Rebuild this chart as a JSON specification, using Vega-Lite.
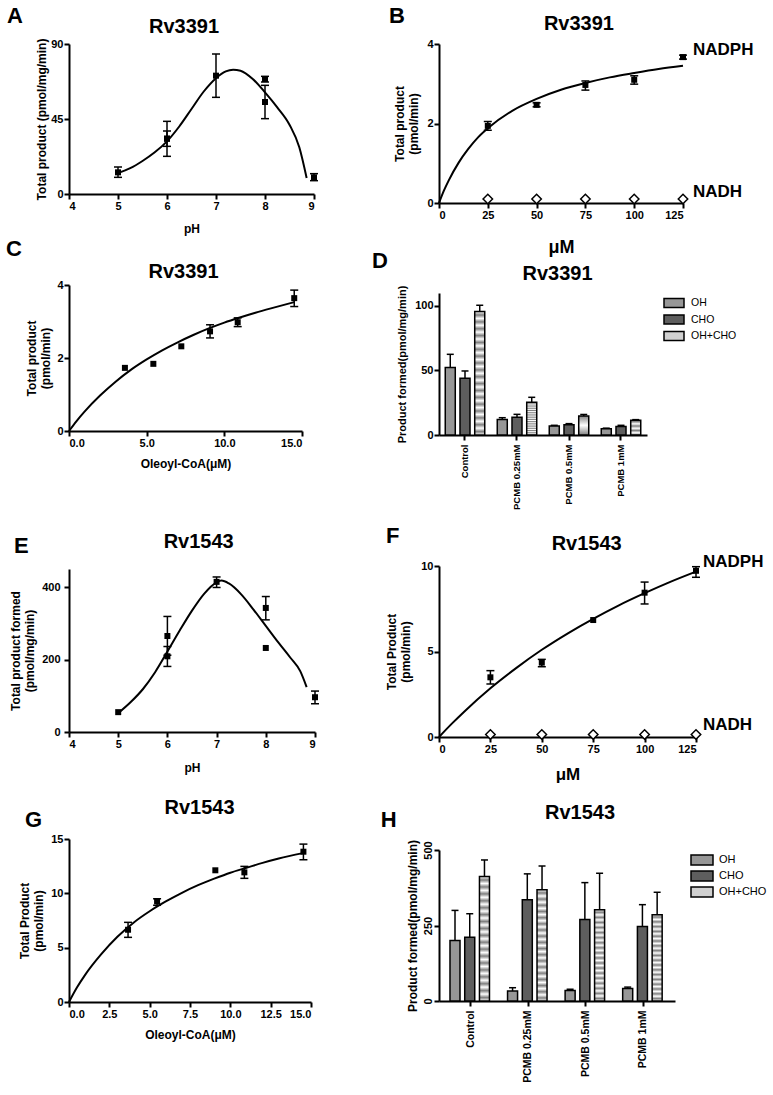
{
  "$schema": "https://vega.github.io/schema/vega-lite/v6.json",
  "background": "white",
  "padding": 5,
  "spacing": 52,
  "resolve": {"scale": {"fill": "independent"}, "legend": {"fill": "independent"}},
  "hconcat": [
    {
      "spacing": 62,
      "vconcat": [
        {
          "spacing": 3,
          "vconcat": [
            {
              "width": 245, "height": 150,
              "layer": [
                {"data": {"name": "A_curve"}, "mark": {"type": "line", "interpolate": "monotone", "color": "black", "strokeWidth": 2},
                 "encoding": {
                   "x": {"field": "pH", "type": "quantitative", "scale": {"domain": [4, 9], "nice": false, "zero": false}, "axis": {"values": [4, 5, 6, 7, 8, 9], "title": "pH", "titlePadding": 12}},
                   "y": {"field": "v", "type": "quantitative", "scale": {"domain": [0, 90], "nice": false}, "axis": {"values": [0, 45, 90], "title": "Total product (pmol/mg/min)", "titlePadding": 2}}}},
                {"data": {"name": "A_pts"}, "mark": {"type": "rule", "color": "black", "strokeWidth": 1.5},
                 "encoding": {"x": {"field": "pH", "type": "quantitative"}, "y": {"field": "lo", "type": "quantitative"}, "y2": {"field": "hi"}}},
                {"data": {"name": "A_pts"}, "mark": {"type": "tick", "orient": "horizontal", "color": "black", "size": 8, "thickness": 1.5, "opacity": 1},
                 "encoding": {"x": {"field": "pH", "type": "quantitative"}, "y": {"field": "lo", "type": "quantitative"}}},
                {"data": {"name": "A_pts"}, "mark": {"type": "tick", "orient": "horizontal", "color": "black", "size": 8, "thickness": 1.5, "opacity": 1},
                 "encoding": {"x": {"field": "pH", "type": "quantitative"}, "y": {"field": "hi", "type": "quantitative"}}},
                {"data": {"name": "A_pts"}, "mark": {"type": "square", "color": "black", "size": 36, "opacity": 1},
                 "encoding": {"x": {"field": "pH", "type": "quantitative"}, "y": {"field": "v", "type": "quantitative"}}},
                {"data": {"values": [{"label": "A"}]}, "mark": {"type": "text", "align": "left", "baseline": "alphabetic", "fontSize": 22, "fontWeight": "bold", "color": "black"},
                 "encoding": {"x": {"datum": 2.735, "type": "quantitative"}, "y": {"datum": 102.6, "type": "quantitative"}, "text": {"field": "label"}}},
                {"data": {"values": [{"label": "Rv3391"}]}, "mark": {"type": "text", "align": "center", "baseline": "alphabetic", "fontSize": 20, "fontWeight": "bold", "color": "black"},
                 "encoding": {"x": {"datum": 6.347, "type": "quantitative"}, "y": {"datum": 96.6, "type": "quantitative"}, "text": {"field": "label"}}}
              ]
            },
            {
              "width": 233, "height": 146,
              "layer": [
                {"data": {"name": "C_curve"}, "mark": {"type": "line", "interpolate": "monotone", "color": "black", "strokeWidth": 2},
                 "encoding": {
                   "x": {"field": "c", "type": "quantitative", "scale": {"domain": [0, 15], "nice": false}, "axis": {"values": [0, 2.5, 5, 7.5, 10, 12.5, 15], "format": ".1f", "title": "Oleoyl-CoA(μM)", "titlePadding": 10}},
                   "y": {"field": "v", "type": "quantitative", "scale": {"domain": [0, 4], "nice": false}, "axis": {"values": [0, 2, 4], "title": ["Total product", "(pmol/min)"], "titlePadding": 4}}}},
                {"data": {"name": "C_pts"}, "mark": {"type": "rule", "color": "black", "strokeWidth": 1.5},
                 "encoding": {"x": {"field": "c", "type": "quantitative"}, "y": {"field": "lo", "type": "quantitative"}, "y2": {"field": "hi"}}},
                {"data": {"name": "C_pts"}, "mark": {"type": "tick", "orient": "horizontal", "color": "black", "size": 8, "thickness": 1.5, "opacity": 1},
                 "encoding": {"x": {"field": "c", "type": "quantitative"}, "y": {"field": "lo", "type": "quantitative"}}},
                {"data": {"name": "C_pts"}, "mark": {"type": "tick", "orient": "horizontal", "color": "black", "size": 8, "thickness": 1.5, "opacity": 1},
                 "encoding": {"x": {"field": "c", "type": "quantitative"}, "y": {"field": "hi", "type": "quantitative"}}},
                {"data": {"name": "C_pts"}, "mark": {"type": "square", "color": "black", "size": 36, "opacity": 1},
                 "encoding": {"x": {"field": "c", "type": "quantitative"}, "y": {"field": "v", "type": "quantitative"}}},
                {"data": {"values": [{"label": "C"}]}, "mark": {"type": "text", "align": "left", "baseline": "alphabetic", "fontSize": 22, "fontWeight": "bold", "color": "black"},
                 "encoding": {"x": {"datum": -4.057, "type": "quantitative"}, "y": {"datum": 4.795, "type": "quantitative"}, "text": {"field": "label"}}},
                {"data": {"values": [{"label": "Rv3391"}]}, "mark": {"type": "text", "align": "center", "baseline": "alphabetic", "fontSize": 20, "fontWeight": "bold", "color": "black"},
                 "encoding": {"x": {"datum": 7.373, "type": "quantitative"}, "y": {"datum": 4.192, "type": "quantitative"}, "text": {"field": "label"}}}
              ]
            }
          ]
        },
        {
          "spacing": 25,
          "vconcat": [
            {
              "width": 246, "height": 163,
              "layer": [
                {"data": {"name": "E_curve"}, "mark": {"type": "line", "interpolate": "monotone", "color": "black", "strokeWidth": 2},
                 "encoding": {
                   "x": {"field": "pH", "type": "quantitative", "scale": {"domain": [4, 9], "nice": false, "zero": false}, "axis": {"values": [4, 5, 6, 7, 8, 9], "title": "pH", "titlePadding": 13}},
                   "y": {"field": "v", "type": "quantitative", "scale": {"domain": [0, 450], "nice": false}, "axis": {"values": [0, 200, 400], "title": ["Total product formed", "(pmol/mg/min)"], "titlePadding": 5, "labelPadding": 4}}}},
                {"data": {"name": "E_pts"}, "mark": {"type": "rule", "color": "black", "strokeWidth": 1.5},
                 "encoding": {"x": {"field": "pH", "type": "quantitative"}, "y": {"field": "lo", "type": "quantitative"}, "y2": {"field": "hi"}}},
                {"data": {"name": "E_pts"}, "mark": {"type": "tick", "orient": "horizontal", "color": "black", "size": 8, "thickness": 1.5, "opacity": 1},
                 "encoding": {"x": {"field": "pH", "type": "quantitative"}, "y": {"field": "lo", "type": "quantitative"}}},
                {"data": {"name": "E_pts"}, "mark": {"type": "tick", "orient": "horizontal", "color": "black", "size": 8, "thickness": 1.5, "opacity": 1},
                 "encoding": {"x": {"field": "pH", "type": "quantitative"}, "y": {"field": "hi", "type": "quantitative"}}},
                {"data": {"name": "E_pts"}, "mark": {"type": "square", "color": "black", "size": 36, "opacity": 1},
                 "encoding": {"x": {"field": "pH", "type": "quantitative"}, "y": {"field": "v", "type": "quantitative"}}},
                {"data": {"values": [{"label": "E"}]}, "mark": {"type": "text", "align": "left", "baseline": "alphabetic", "fontSize": 22, "fontWeight": "bold", "color": "black"},
                 "encoding": {"x": {"datum": 2.882, "type": "quantitative"}, "y": {"datum": 494.2, "type": "quantitative"}, "text": {"field": "label"}}},
                {"data": {"values": [{"label": "Rv1543"}]}, "mark": {"type": "text", "align": "center", "baseline": "alphabetic", "fontSize": 20, "fontWeight": "bold", "color": "black"},
                 "encoding": {"x": {"datum": 6.636, "type": "quantitative"}, "y": {"datum": 508, "type": "quantitative"}, "text": {"field": "label"}}}
              ]
            },
            {
              "width": 242, "height": 163,
              "layer": [
                {"data": {"name": "G_curve"}, "mark": {"type": "line", "interpolate": "monotone", "color": "black", "strokeWidth": 2},
                 "encoding": {
                   "x": {"field": "c", "type": "quantitative", "scale": {"domain": [0, 15], "nice": false}, "axis": {"values": [0, 2.5, 5, 7.5, 10, 12.5, 15], "format": ".1f", "title": "Oleoyl-CoA(μM)", "titlePadding": 10}},
                   "y": {"field": "v", "type": "quantitative", "scale": {"domain": [0, 15], "nice": false}, "axis": {"values": [0, 5, 10, 15], "title": ["Total Product", "(pmol/min)"], "titlePadding": 5}}}},
                {"data": {"name": "G_pts"}, "mark": {"type": "rule", "color": "black", "strokeWidth": 1.5},
                 "encoding": {"x": {"field": "c", "type": "quantitative"}, "y": {"field": "lo", "type": "quantitative"}, "y2": {"field": "hi"}}},
                {"data": {"name": "G_pts"}, "mark": {"type": "tick", "orient": "horizontal", "color": "black", "size": 8, "thickness": 1.5, "opacity": 1},
                 "encoding": {"x": {"field": "c", "type": "quantitative"}, "y": {"field": "lo", "type": "quantitative"}}},
                {"data": {"name": "G_pts"}, "mark": {"type": "tick", "orient": "horizontal", "color": "black", "size": 8, "thickness": 1.5, "opacity": 1},
                 "encoding": {"x": {"field": "c", "type": "quantitative"}, "y": {"field": "hi", "type": "quantitative"}}},
                {"data": {"name": "G_pts"}, "mark": {"type": "square", "color": "black", "size": 36, "opacity": 1},
                 "encoding": {"x": {"field": "c", "type": "quantitative"}, "y": {"field": "v", "type": "quantitative"}}},
                {"data": {"values": [{"label": "G"}]}, "mark": {"type": "text", "align": "left", "baseline": "alphabetic", "fontSize": 22, "fontWeight": "bold", "color": "black"},
                 "encoding": {"x": {"datum": -2.728, "type": "quantitative"}, "y": {"datum": 16.1, "type": "quantitative"}, "text": {"field": "label"}}},
                {"data": {"values": [{"label": "Rv1543"}]}, "mark": {"type": "text", "align": "center", "baseline": "alphabetic", "fontSize": 20, "fontWeight": "bold", "color": "black"},
                 "encoding": {"x": {"datum": 8.09, "type": "quantitative"}, "y": {"datum": 17.3, "type": "quantitative"}, "text": {"field": "label"}}}
              ]
            }
          ]
        }
      ]
    },
    {
      "spacing": 15,
      "resolve": {"scale": {"fill": "independent"}, "legend": {"fill": "independent"}},
      "vconcat": [
        {
          "spacing": -7,
          "resolve": {"scale": {"fill": "independent"}, "legend": {"fill": "independent"}},
          "vconcat": [
            {
              "width": 244, "height": 159,
              "layer": [
                {"data": {"name": "B_curve"}, "mark": {"type": "line", "interpolate": "monotone", "color": "black", "strokeWidth": 2},
                 "encoding": {
                   "x": {"field": "c", "type": "quantitative", "scale": {"domain": [0, 125], "nice": false}, "axis": {"values": [0, 25, 50, 75, 100, 125], "title": "μM", "titleFontSize": 18, "titlePadding": 18}},
                   "y": {"field": "v", "type": "quantitative", "scale": {"domain": [0, 4], "nice": false}, "axis": {"values": [0, 2, 4], "title": ["Total product", "(pmol/min)"], "titlePadding": 6}}}},
                {"data": {"name": "B_pts"}, "mark": {"type": "rule", "color": "black", "strokeWidth": 1.5},
                 "encoding": {"x": {"field": "c", "type": "quantitative"}, "y": {"field": "lo", "type": "quantitative"}, "y2": {"field": "hi"}}},
                {"data": {"name": "B_pts"}, "mark": {"type": "tick", "orient": "horizontal", "color": "black", "size": 8, "thickness": 1.5, "opacity": 1},
                 "encoding": {"x": {"field": "c", "type": "quantitative"}, "y": {"field": "lo", "type": "quantitative"}}},
                {"data": {"name": "B_pts"}, "mark": {"type": "tick", "orient": "horizontal", "color": "black", "size": 8, "thickness": 1.5, "opacity": 1},
                 "encoding": {"x": {"field": "c", "type": "quantitative"}, "y": {"field": "hi", "type": "quantitative"}}},
                {"data": {"name": "B_pts"}, "transform": [{"filter": "datum.s === 'NADPH'"}], "mark": {"type": "square", "color": "black", "size": 36, "opacity": 1},
                 "encoding": {"x": {"field": "c", "type": "quantitative"}, "y": {"field": "v", "type": "quantitative"}}},
                {"data": {"name": "B_pts"}, "transform": [{"filter": "datum.s === 'NADH'"}], "mark": {"type": "point", "shape": "diamond", "filled": true, "fill": "white", "stroke": "black", "strokeWidth": 1.5, "size": 90, "opacity": 1},
                 "encoding": {"x": {"field": "c", "type": "quantitative"}, "y": {"field": "v", "type": "quantitative"}}},
                {"data": {"name": "B_pts"}, "transform": [{"filter": "datum.c === 125"}], "mark": {"type": "text", "align": "left", "baseline": "middle", "dx": 10, "dy": -7, "fontSize": 17, "fontWeight": "bold", "color": "black"},
                 "encoding": {"x": {"field": "c", "type": "quantitative"}, "y": {"field": "v", "type": "quantitative"}, "text": {"field": "s"}}},
                {"data": {"values": [{"label": "B"}]}, "mark": {"type": "text", "align": "left", "baseline": "alphabetic", "fontSize": 22, "fontWeight": "bold", "color": "black"},
                 "encoding": {"x": {"datum": -25.6, "type": "quantitative"}, "y": {"datum": 4.528, "type": "quantitative"}, "text": {"field": "label"}}},
                {"data": {"values": [{"label": "Rv3391"}]}, "mark": {"type": "text", "align": "center", "baseline": "alphabetic", "fontSize": 20, "fontWeight": "bold", "color": "black"},
                 "encoding": {"x": {"datum": 71.7, "type": "quantitative"}, "y": {"datum": 4.352, "type": "quantitative"}, "text": {"field": "label"}}}
              ]
            },
            {
              "width": 208, "height": 142,
              "layer": [
                {"data": {"name": "D_bars"}, "mark": {"type": "bar", "stroke": "black", "strokeWidth": 1.5},
                 "encoding": {
                   "x": {"field": "group", "type": "nominal", "sort": ["Control", "PCMB 0.25mM", "PCMB 0.5mM", "PCMB 1mM"], "scale": {"paddingInner": 0.15, "paddingOuter": 0.075}, "axis": {"title": null, "labelAngle": -90, "labelFontSize": 9.5, "labelPadding": 4}},
                   "xOffset": {"field": "sample", "type": "nominal", "sort": ["OH", "CHO", "OH+CHO"], "scale": {"paddingInner": 0.32, "paddingOuter": 0.16}},
                   "y": {"field": "value", "type": "quantitative", "scale": {"domain": [0, 110], "nice": false}, "axis": {"values": [0, 50, 100], "title": "Product formed(pmol/mg/min)", "titleFontSize": 11, "titlePadding": 7}},
                   "fill": {"condition": {"test": "datum.sample === 'OH+CHO'", "value": {"gradient": "linear", "x1": 0, "y1": 0, "x2": 0, "y2": 1, "stops": [
                       {"offset": 0, "color": "#ffffff"}, {"offset": 0.0278, "color": "#808080"}, {"offset": 0.0556, "color": "#ffffff"}, {"offset": 0.0833, "color": "#808080"},
                       {"offset": 0.1111, "color": "#ffffff"}, {"offset": 0.1389, "color": "#808080"}, {"offset": 0.1667, "color": "#ffffff"}, {"offset": 0.1944, "color": "#808080"},
                       {"offset": 0.2222, "color": "#ffffff"}, {"offset": 0.25, "color": "#808080"}, {"offset": 0.2778, "color": "#ffffff"}, {"offset": 0.3056, "color": "#808080"},
                       {"offset": 0.3333, "color": "#ffffff"}, {"offset": 0.3611, "color": "#808080"}, {"offset": 0.3889, "color": "#ffffff"}, {"offset": 0.4167, "color": "#808080"},
                       {"offset": 0.4444, "color": "#ffffff"}, {"offset": 0.4722, "color": "#808080"}, {"offset": 0.5, "color": "#ffffff"}, {"offset": 0.5278, "color": "#808080"},
                       {"offset": 0.5556, "color": "#ffffff"}, {"offset": 0.5833, "color": "#808080"}, {"offset": 0.6111, "color": "#ffffff"}, {"offset": 0.6389, "color": "#808080"},
                       {"offset": 0.6667, "color": "#ffffff"}, {"offset": 0.6944, "color": "#808080"}, {"offset": 0.7222, "color": "#ffffff"}, {"offset": 0.75, "color": "#808080"},
                       {"offset": 0.7778, "color": "#ffffff"}, {"offset": 0.8056, "color": "#808080"}, {"offset": 0.8333, "color": "#ffffff"}, {"offset": 0.8611, "color": "#808080"},
                       {"offset": 0.8889, "color": "#ffffff"}, {"offset": 0.9167, "color": "#808080"}, {"offset": 0.9444, "color": "#ffffff"}, {"offset": 0.9722, "color": "#808080"},
                       {"offset": 1, "color": "#ffffff"}]}},
                            "field": "sample", "type": "nominal", "scale": {"domain": ["OH", "CHO", "OH+CHO"], "range": ["#979797", "#5e5e5e", "#d0d0d0"]},
                            "legend": {"title": null, "orient": "right", "offset": 17, "padding": 4, "labelFontSize": 10.5, "labelFontWeight": "normal", "labelColor": "black", "symbolType": "M-2,-0.9H2V0.9H-2Z", "symbolSize": 100, "symbolStrokeColor": "black", "symbolStrokeWidth": 1.5, "symbolOpacity": 1, "rowPadding": 0.5, "labelOffset": 11}}}},
                {"data": {"name": "D_bars"}, "mark": {"type": "rule", "color": "black", "strokeWidth": 1.5},
                 "encoding": {"x": {"field": "group", "type": "nominal", "sort": ["Control", "PCMB 0.25mM", "PCMB 0.5mM", "PCMB 1mM"]}, "xOffset": {"field": "sample", "type": "nominal", "sort": ["OH", "CHO", "OH+CHO"]}, "y": {"field": "value", "type": "quantitative"}, "y2": {"field": "err"}}},
                {"data": {"name": "D_bars"}, "mark": {"type": "tick", "orient": "horizontal", "color": "black", "size": 7, "thickness": 1.5, "opacity": 1},
                 "encoding": {"x": {"field": "group", "type": "nominal", "sort": ["Control", "PCMB 0.25mM", "PCMB 0.5mM", "PCMB 1mM"]}, "xOffset": {"field": "sample", "type": "nominal", "sort": ["OH", "CHO", "OH+CHO"]}, "y": {"field": "err", "type": "quantitative"}}},
                {"data": {"values": [{"label": "D"}]}, "mark": {"type": "text", "align": "left", "baseline": "alphabetic", "fontSize": 22, "fontWeight": "bold", "color": "black", "dx": -93},
                 "encoding": {"x": {"datum": "Control", "type": "nominal"}, "y": {"datum": 129.4, "type": "quantitative"}, "text": {"field": "label"}}},
                {"data": {"values": [{"label": "Rv3391"}]}, "mark": {"type": "text", "align": "center", "baseline": "alphabetic", "fontSize": 20, "fontWeight": "bold", "color": "black", "dx": -11.5},
                 "encoding": {"x": {"datum": "PCMB 0.5mM", "type": "nominal"}, "y": {"datum": 120.1, "type": "quantitative"}, "text": {"field": "label"}}}
              ]
            }
          ]
        },
        {
          "spacing": 21,
          "resolve": {"scale": {"fill": "independent"}, "legend": {"fill": "independent"}},
          "vconcat": [
            {
              "width": 257, "height": 171,
              "layer": [
                {"data": {"name": "F_curve"}, "mark": {"type": "line", "interpolate": "monotone", "color": "black", "strokeWidth": 2},
                 "encoding": {
                   "x": {"field": "c", "type": "quantitative", "scale": {"domain": [0, 125], "nice": false}, "axis": {"values": [0, 25, 50, 75, 100, 125], "title": "μM", "titleFontSize": 17, "titlePadding": 12}},
                   "y": {"field": "v", "type": "quantitative", "scale": {"domain": [0, 10], "nice": false}, "axis": {"values": [0, 5, 10], "title": ["Total Product", "(pmol/min)"], "titlePadding": 8}}}},
                {"data": {"name": "F_pts"}, "mark": {"type": "rule", "color": "black", "strokeWidth": 1.5},
                 "encoding": {"x": {"field": "c", "type": "quantitative"}, "y": {"field": "lo", "type": "quantitative"}, "y2": {"field": "hi"}}},
                {"data": {"name": "F_pts"}, "mark": {"type": "tick", "orient": "horizontal", "color": "black", "size": 8, "thickness": 1.5, "opacity": 1},
                 "encoding": {"x": {"field": "c", "type": "quantitative"}, "y": {"field": "lo", "type": "quantitative"}}},
                {"data": {"name": "F_pts"}, "mark": {"type": "tick", "orient": "horizontal", "color": "black", "size": 8, "thickness": 1.5, "opacity": 1},
                 "encoding": {"x": {"field": "c", "type": "quantitative"}, "y": {"field": "hi", "type": "quantitative"}}},
                {"data": {"name": "F_pts"}, "transform": [{"filter": "datum.s === 'NADPH'"}], "mark": {"type": "square", "color": "black", "size": 36, "opacity": 1},
                 "encoding": {"x": {"field": "c", "type": "quantitative"}, "y": {"field": "v", "type": "quantitative"}}},
                {"data": {"name": "F_pts"}, "transform": [{"filter": "datum.s === 'NADH'"}], "mark": {"type": "point", "shape": "diamond", "filled": true, "fill": "white", "stroke": "black", "strokeWidth": 1.5, "size": 90, "opacity": 1},
                 "encoding": {"x": {"field": "c", "type": "quantitative"}, "y": {"field": "v", "type": "quantitative"}}},
                {"data": {"name": "F_pts"}, "transform": [{"filter": "datum.c === 125"}], "mark": {"type": "text", "align": "left", "baseline": "middle", "dx": 7, "dy": -9, "fontSize": 17, "fontWeight": "bold", "color": "black"},
                 "encoding": {"x": {"field": "c", "type": "quantitative"}, "y": {"field": "v", "type": "quantitative"}, "text": {"field": "s"}}},
                {"data": {"values": [{"label": "F"}]}, "mark": {"type": "text", "align": "left", "baseline": "alphabetic", "fontSize": 22, "fontWeight": "bold", "color": "black"},
                 "encoding": {"x": {"datum": -25.8, "type": "quantitative"}, "y": {"datum": 11.345, "type": "quantitative"}, "text": {"field": "label"}}},
                {"data": {"values": [{"label": "Rv1543"}]}, "mark": {"type": "text", "align": "center", "baseline": "alphabetic", "fontSize": 20, "fontWeight": "bold", "color": "black"},
                 "encoding": {"x": {"datum": 71.84, "type": "quantitative"}, "y": {"datum": 10.936, "type": "quantitative"}, "text": {"field": "label"}}}
              ]
            },
            {
              "width": 236, "height": 151,
              "layer": [
                {"data": {"name": "H_bars"}, "mark": {"type": "bar", "stroke": "black", "strokeWidth": 1.5},
                 "encoding": {
                   "x": {"field": "group", "type": "nominal", "sort": ["Control", "PCMB 0.25mM", "PCMB 0.5mM", "PCMB 1mM"], "scale": {"paddingInner": 0.2, "paddingOuter": 0.15}, "axis": {"title": null, "labelAngle": -90, "labelFontSize": 10.5, "labelPadding": 4}},
                   "xOffset": {"field": "sample", "type": "nominal", "sort": ["OH", "CHO", "OH+CHO"], "scale": {"paddingInner": 0.32, "paddingOuter": 0.16}},
                   "y": {"field": "value", "type": "quantitative", "scale": {"domain": [0, 500], "nice": false}, "axis": {"values": [0, 250, 500], "labelAngle": -90, "title": "Product formed(pmol/mg/min)", "titleFontSize": 12, "titlePadding": 3}},
                   "fill": {"condition": {"test": "datum.sample === 'OH+CHO'", "value": {"gradient": "linear", "x1": 0, "y1": 0, "x2": 0, "y2": 1, "stops": [
                       {"offset": 0, "color": "#ffffff"}, {"offset": 0.0278, "color": "#808080"}, {"offset": 0.0556, "color": "#ffffff"}, {"offset": 0.0833, "color": "#808080"},
                       {"offset": 0.1111, "color": "#ffffff"}, {"offset": 0.1389, "color": "#808080"}, {"offset": 0.1667, "color": "#ffffff"}, {"offset": 0.1944, "color": "#808080"},
                       {"offset": 0.2222, "color": "#ffffff"}, {"offset": 0.25, "color": "#808080"}, {"offset": 0.2778, "color": "#ffffff"}, {"offset": 0.3056, "color": "#808080"},
                       {"offset": 0.3333, "color": "#ffffff"}, {"offset": 0.3611, "color": "#808080"}, {"offset": 0.3889, "color": "#ffffff"}, {"offset": 0.4167, "color": "#808080"},
                       {"offset": 0.4444, "color": "#ffffff"}, {"offset": 0.4722, "color": "#808080"}, {"offset": 0.5, "color": "#ffffff"}, {"offset": 0.5278, "color": "#808080"},
                       {"offset": 0.5556, "color": "#ffffff"}, {"offset": 0.5833, "color": "#808080"}, {"offset": 0.6111, "color": "#ffffff"}, {"offset": 0.6389, "color": "#808080"},
                       {"offset": 0.6667, "color": "#ffffff"}, {"offset": 0.6944, "color": "#808080"}, {"offset": 0.7222, "color": "#ffffff"}, {"offset": 0.75, "color": "#808080"},
                       {"offset": 0.7778, "color": "#ffffff"}, {"offset": 0.8056, "color": "#808080"}, {"offset": 0.8333, "color": "#ffffff"}, {"offset": 0.8611, "color": "#808080"},
                       {"offset": 0.8889, "color": "#ffffff"}, {"offset": 0.9167, "color": "#808080"}, {"offset": 0.9444, "color": "#ffffff"}, {"offset": 0.9722, "color": "#808080"},
                       {"offset": 1, "color": "#ffffff"}]}},
                            "field": "sample", "type": "nominal", "scale": {"domain": ["OH", "CHO", "OH+CHO"], "range": ["#979797", "#5e5e5e", "#d0d0d0"]},
                            "legend": {"title": null, "orient": "right", "offset": 17, "padding": 4, "labelFontSize": 11, "labelFontWeight": "normal", "labelColor": "black", "symbolType": "M-2.2,-1H2.2V1H-2.2Z", "symbolSize": 100, "symbolStrokeColor": "black", "symbolStrokeWidth": 1.5, "symbolOpacity": 1, "rowPadding": 0, "labelOffset": 11}}}},
                {"data": {"name": "H_bars"}, "mark": {"type": "rule", "color": "black", "strokeWidth": 1.5},
                 "encoding": {"x": {"field": "group", "type": "nominal", "sort": ["Control", "PCMB 0.25mM", "PCMB 0.5mM", "PCMB 1mM"]}, "xOffset": {"field": "sample", "type": "nominal", "sort": ["OH", "CHO", "OH+CHO"]}, "y": {"field": "value", "type": "quantitative"}, "y2": {"field": "err"}}},
                {"data": {"name": "H_bars"}, "mark": {"type": "tick", "orient": "horizontal", "color": "black", "size": 7, "thickness": 1.5, "opacity": 1},
                 "encoding": {"x": {"field": "group", "type": "nominal", "sort": ["Control", "PCMB 0.25mM", "PCMB 0.5mM", "PCMB 1mM"]}, "xOffset": {"field": "sample", "type": "nominal", "sort": ["OH", "CHO", "OH+CHO"]}, "y": {"field": "err", "type": "quantitative"}}},
                {"data": {"values": [{"label": "H"}]}, "mark": {"type": "text", "align": "left", "baseline": "alphabetic", "fontSize": 22, "fontWeight": "bold", "color": "black", "dx": -90},
                 "encoding": {"x": {"datum": "Control", "type": "nominal"}, "y": {"datum": 576.2, "type": "quantitative"}, "text": {"field": "label"}}},
                {"data": {"values": [{"label": "Rv1543"}]}, "mark": {"type": "text", "align": "center", "baseline": "alphabetic", "fontSize": 20, "fontWeight": "bold", "color": "black", "dx": -5.8},
                 "encoding": {"x": {"datum": "PCMB 0.5mM", "type": "nominal"}, "y": {"datum": 602.6, "type": "quantitative"}, "text": {"field": "label"}}}
              ]
            }
          ]
        }
      ]
    }
  ],
  "datasets": {
    "A_curve": [
      {"pH": 5.0, "v": 12.6}, {"pH": 5.25, "v": 15.5}, {"pH": 5.5, "v": 19.8}, {"pH": 5.75, "v": 25.0},
      {"pH": 6.0, "v": 31.6}, {"pH": 6.25, "v": 40.5}, {"pH": 6.5, "v": 51.0}, {"pH": 6.75, "v": 61.5},
      {"pH": 7.0, "v": 69.5}, {"pH": 7.2, "v": 73.6}, {"pH": 7.35, "v": 74.6}, {"pH": 7.5, "v": 74.0},
      {"pH": 7.75, "v": 69.0}, {"pH": 8.0, "v": 61.0}, {"pH": 8.25, "v": 52.0}, {"pH": 8.5, "v": 41.6},
      {"pH": 8.7, "v": 28.0}, {"pH": 8.85, "v": 9.6}
    ],
    "A_pts": [
      {"pH": 5, "v": 13, "lo": 10, "hi": 16.2},
      {"pH": 6, "v": 33.2, "lo": 22.6, "hi": 43.6},
      {"pH": 6, "v": 33.2, "lo": 28.6, "hi": 37.8},
      {"pH": 7, "v": 71, "lo": 58, "hi": 84},
      {"pH": 8, "v": 69, "lo": 67.2, "hi": 70.6},
      {"pH": 8, "v": 55.2, "lo": 45.2, "hi": 65.2},
      {"pH": 9, "v": 10, "lo": 8, "hi": 12.2}
    ],
    "B_curve": [
      {"c": 0, "v": 0}, {"c": 2.5, "v": 0.31}, {"c": 5, "v": 0.57}, {"c": 10, "v": 1.01}, {"c": 15, "v": 1.36},
      {"c": 20, "v": 1.65}, {"c": 25, "v": 1.88}, {"c": 37.5, "v": 2.32}, {"c": 50, "v": 2.62}, {"c": 62.5, "v": 2.85},
      {"c": 75, "v": 3.02}, {"c": 87.5, "v": 3.16}, {"c": 100, "v": 3.27}, {"c": 112.5, "v": 3.37}, {"c": 125, "v": 3.45}
    ],
    "B_pts": [
      {"c": 25, "v": 1.94, "lo": 1.83, "hi": 2.05, "s": "NADPH"},
      {"c": 50, "v": 2.47, "lo": 2.42, "hi": 2.52, "s": "NADPH"},
      {"c": 75, "v": 2.97, "lo": 2.84, "hi": 3.07, "s": "NADPH"},
      {"c": 100, "v": 3.1, "lo": 2.99, "hi": 3.2, "s": "NADPH"},
      {"c": 125, "v": 3.67, "lo": 3.62, "hi": 3.72, "s": "NADPH"},
      {"c": 25, "v": 0.1, "s": "NADH"},
      {"c": 50, "v": 0.1, "s": "NADH"},
      {"c": 75, "v": 0.1, "s": "NADH"},
      {"c": 100, "v": 0.1, "s": "NADH"},
      {"c": 125, "v": 0.1, "s": "NADH"}
    ],
    "C_curve": [
      {"c": 0, "v": 0}, {"c": 0.5, "v": 0.28}, {"c": 1, "v": 0.53}, {"c": 2, "v": 0.97}, {"c": 3, "v": 1.35},
      {"c": 4, "v": 1.68}, {"c": 5, "v": 1.96}, {"c": 6, "v": 2.21}, {"c": 7, "v": 2.43}, {"c": 8, "v": 2.63},
      {"c": 9, "v": 2.81}, {"c": 10, "v": 2.97}, {"c": 11, "v": 3.11}, {"c": 12, "v": 3.24}, {"c": 13, "v": 3.36}, {"c": 14.5, "v": 3.53}
    ],
    "C_pts": [
      {"c": 3.6, "v": 1.73},
      {"c": 5.43, "v": 1.84},
      {"c": 7.23, "v": 2.32},
      {"c": 9.08, "v": 2.73, "lo": 2.55, "hi": 2.91},
      {"c": 10.86, "v": 2.98, "lo": 2.86, "hi": 3.1},
      {"c": 14.5, "v": 3.64, "lo": 3.41, "hi": 3.86}
    ],
    "D_bars": [
      {"group": "Control", "sample": "OH", "value": 52.2, "err": 62.5},
      {"group": "Control", "sample": "CHO", "value": 44, "err": 49.6},
      {"group": "Control", "sample": "OH+CHO", "value": 95.6, "err": 100.5},
      {"group": "PCMB 0.25mM", "sample": "OH", "value": 12.1, "err": 13.4},
      {"group": "PCMB 0.25mM", "sample": "CHO", "value": 13.7, "err": 16},
      {"group": "PCMB 0.25mM", "sample": "OH+CHO", "value": 25.3, "err": 29.2},
      {"group": "PCMB 0.5mM", "sample": "OH", "value": 7, "err": 7.5},
      {"group": "PCMB 0.5mM", "sample": "CHO", "value": 8, "err": 8.8},
      {"group": "PCMB 0.5mM", "sample": "OH+CHO", "value": 14.7, "err": 15.9},
      {"group": "PCMB 1mM", "sample": "OH", "value": 4.9, "err": 5.3},
      {"group": "PCMB 1mM", "sample": "CHO", "value": 6.6, "err": 7.5},
      {"group": "PCMB 1mM", "sample": "OH+CHO", "value": 11.4, "err": 11.9}
    ],
    "E_curve": [
      {"pH": 5.0, "v": 52}, {"pH": 5.25, "v": 82}, {"pH": 5.5, "v": 118}, {"pH": 5.75, "v": 165},
      {"pH": 6.0, "v": 222}, {"pH": 6.25, "v": 280}, {"pH": 6.5, "v": 335}, {"pH": 6.75, "v": 382},
      {"pH": 7.0, "v": 413}, {"pH": 7.1, "v": 418}, {"pH": 7.25, "v": 410}, {"pH": 7.5, "v": 380},
      {"pH": 7.75, "v": 338}, {"pH": 8.0, "v": 293}, {"pH": 8.25, "v": 248}, {"pH": 8.5, "v": 205},
      {"pH": 8.7, "v": 168}, {"pH": 8.83, "v": 124}
    ],
    "E_pts": [
      {"pH": 5, "v": 54.8},
      {"pH": 6, "v": 265, "lo": 212, "hi": 319},
      {"pH": 6, "v": 209, "lo": 181, "hi": 236},
      {"pH": 7, "v": 414.5, "lo": 399, "hi": 428},
      {"pH": 8, "v": 342.5, "lo": 309.6, "hi": 374},
      {"pH": 8, "v": 232},
      {"pH": 9, "v": 96, "lo": 78, "hi": 113}
    ],
    "F_curve": [
      {"c": 0, "v": 0}, {"c": 6.25, "v": 0.78}, {"c": 12.5, "v": 1.51}, {"c": 25, "v": 2.85}, {"c": 37.5, "v": 4.03},
      {"c": 50, "v": 5.1}, {"c": 62.5, "v": 6.05}, {"c": 75, "v": 6.91}, {"c": 87.5, "v": 7.7}, {"c": 100, "v": 8.41},
      {"c": 112.5, "v": 9.07}, {"c": 125, "v": 9.67}
    ],
    "F_pts": [
      {"c": 25, "v": 3.49, "lo": 3.1, "hi": 3.88, "s": "NADPH"},
      {"c": 50, "v": 4.35, "lo": 4.11, "hi": 4.54, "s": "NADPH"},
      {"c": 75, "v": 6.84, "s": "NADPH"},
      {"c": 100, "v": 8.44, "lo": 7.78, "hi": 9.06, "s": "NADPH"},
      {"c": 125, "v": 9.72, "lo": 9.34, "hi": 9.96, "s": "NADPH"},
      {"c": 25, "v": 0.15, "s": "NADH"},
      {"c": 50, "v": 0.15, "s": "NADH"},
      {"c": 75, "v": 0.15, "s": "NADH"},
      {"c": 100, "v": 0.15, "s": "NADH"},
      {"c": 125, "v": 0.15, "s": "NADH"}
    ],
    "G_curve": [
      {"c": 0, "v": 0}, {"c": 0.5, "v": 1.35}, {"c": 1, "v": 2.5}, {"c": 2, "v": 4.4}, {"c": 3, "v": 6.0},
      {"c": 4, "v": 7.3}, {"c": 5, "v": 8.35}, {"c": 6, "v": 9.25}, {"c": 7, "v": 10.05}, {"c": 8, "v": 10.75},
      {"c": 9, "v": 11.35}, {"c": 10, "v": 11.9}, {"c": 11, "v": 12.35}, {"c": 12, "v": 12.8}, {"c": 13, "v": 13.2}, {"c": 14.5, "v": 13.7}
    ],
    "G_pts": [
      {"c": 3.66, "v": 6.65, "lo": 5.95, "hi": 7.33},
      {"c": 5.46, "v": 9.26, "lo": 8.9, "hi": 9.5},
      {"c": 9.07, "v": 12.12},
      {"c": 10.87, "v": 11.93, "lo": 11.38, "hi": 12.48},
      {"c": 14.53, "v": 13.83, "lo": 13.09, "hi": 14.53}
    ],
    "H_bars": [
      {"group": "Control", "sample": "OH", "value": 200, "err": 300},
      {"group": "Control", "sample": "CHO", "value": 211, "err": 289},
      {"group": "Control", "sample": "OH+CHO", "value": 412, "err": 467},
      {"group": "PCMB 0.25mM", "sample": "OH", "value": 33, "err": 44},
      {"group": "PCMB 0.25mM", "sample": "CHO", "value": 335, "err": 421},
      {"group": "PCMB 0.25mM", "sample": "OH+CHO", "value": 368, "err": 447},
      {"group": "PCMB 0.5mM", "sample": "OH", "value": 35, "err": 38.5},
      {"group": "PCMB 0.5mM", "sample": "CHO", "value": 270, "err": 392},
      {"group": "PCMB 0.5mM", "sample": "OH+CHO", "value": 302, "err": 423},
      {"group": "PCMB 1mM", "sample": "OH", "value": 41, "err": 46},
      {"group": "PCMB 1mM", "sample": "CHO", "value": 247, "err": 319},
      {"group": "PCMB 1mM", "sample": "OH+CHO", "value": 286, "err": 360}
    ]
  },
  "config": {
    "font": "Liberation Sans",
    "view": {"stroke": null},
    "axis": {"domainColor": "black", "domainWidth": 2, "tickColor": "black", "tickWidth": 2, "tickSize": 5, "labelColor": "black", "labelFont": "Liberation Sans", "labelFontWeight": "bold", "labelFontSize": 11, "labelPadding": 1, "titleColor": "black", "titleFont": "Liberation Sans", "titleFontWeight": "bold", "titleFontSize": 12, "grid": false},
    "legend": {"labelFont": "Liberation Sans"}
  }
}
